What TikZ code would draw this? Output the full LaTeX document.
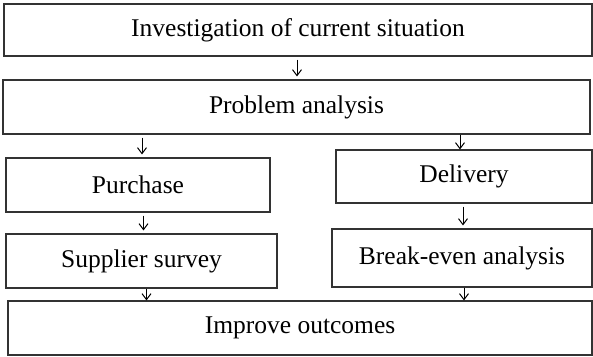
\documentclass[tikz,border=0pt]{standalone}
\usepackage{fontspec}
\setmainfont{Liberation Serif}
\usetikzlibrary{arrows.meta}
\begin{document}
\begin{tikzpicture}[x=1pt,y=-1pt,
  box/.style={draw=black!80, line width=1.1pt, rectangle, inner sep=0pt,
    font=\fontsize{25.5}{30}\selectfont},
  arr/.style={draw=black, line width=1pt, -{Straight Barb[length=6pt,width=9pt,line width=1pt]}}]
\useasboundingbox (0,0) rectangle (593,356);
\node[box, minimum width=588pt, minimum height=52pt] (inv) at (298,30) {Investigation of current situation};
\node[box, minimum width=587pt, minimum height=54pt] (prob) at (296.5,107) {Problem analysis};
\node[box, minimum width=264pt, minimum height=54pt] (pur) at (138,185) {Purchase};
\node[box, minimum width=256pt, minimum height=53pt] (del) at (464,176.5) {Delivery};
\node[box, minimum width=271pt, minimum height=54pt] (sup) at (141.5,261) {Supplier survey};
\node[box, minimum width=260pt, minimum height=58pt] (brk) at (462,258) {Break-even analysis};
\node[box, minimum width=584pt, minimum height=54pt] (imp) at (300,328) {Improve outcomes};
\coordinate (c1) at (297,0);
\coordinate (c2) at (142,0);
\coordinate (c3) at (460,0);
\coordinate (c4) at (143.5,0);
\coordinate (c5) at (463,0);
\coordinate (c6) at (146.5,0);
\coordinate (c7) at (464,0);
\draw[arr, shorten <=3pt, shorten >=3pt] (inv.south -| c1) -- (prob.north -| c1);
\draw[arr, shorten <=3pt, shorten >=3pt] (prob.south -| c2) -- (pur.north -| c2);
\draw[arr] (prob.south -| c3) -- (del.north -| c3);
\draw[arr, shorten <=3pt, shorten >=3pt] (pur.south -| c4) -- (sup.north -| c4);
\draw[arr, shorten <=3pt, shorten >=3pt] (del.south -| c5) -- (brk.north -| c5);
\draw[arr] (sup.south -| c6) -- (imp.north -| c6);
\draw[arr] (brk.south -| c7) -- (imp.north -| c7);
\end{tikzpicture}
\end{document}
